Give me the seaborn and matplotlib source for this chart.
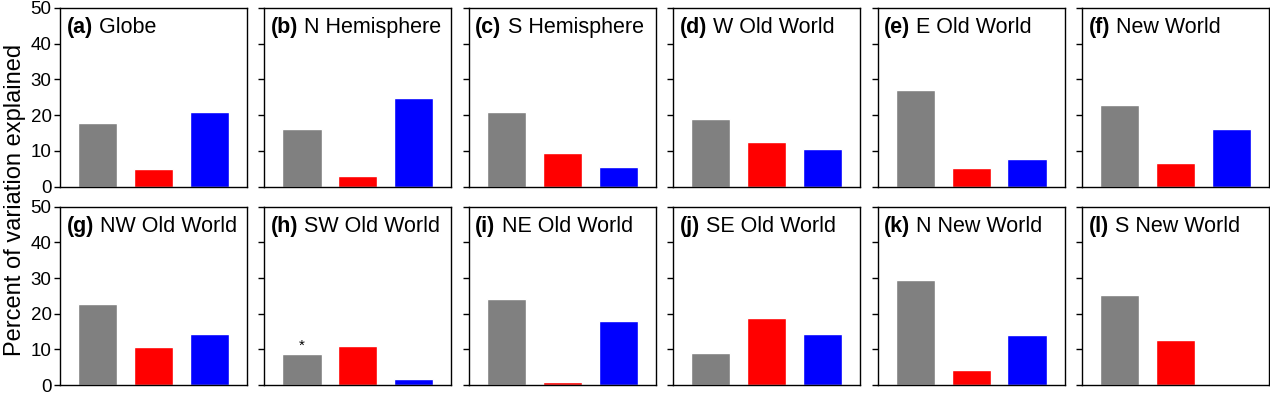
import pandas as pd
import seaborn as sns
import matplotlib.pyplot as plt

# panel letters and region names
letters = ['a', 'b', 'c', 'd', 'e', 'f', 'g', 'h', 'i', 'j', 'k', 'l']
regions = ['Globe', 'N Hemisphere', 'S Hemisphere', 'W Old World', 'E Old World', 'New World',
           'NW Old World', 'SW Old World', 'NE Old World', 'SE Old World', 'N New World', 'S New World']
components = ['shared', 'first', 'second']

# percent of variation explained, one list per component (gray, red, blue)
gray_vals = [17.7, 16.0, 21.0, 18.8, 27.0, 22.8, 22.7, 8.7, 24.2, 9.0, 29.5, 25.2]
red_vals = [4.9, 3.0, 9.5, 12.4, 5.1, 6.5, 10.7, 11.0, 0.8, 18.8, 4.2, 12.6]
blue_vals = [20.9, 24.9, 5.5, 10.5, 7.8, 16.0, 14.2, 1.7, 18.0, 14.3, 14.0, 0.15]
star_panels = ['h']

palette = {'shared': '#808080', 'first': '#ff0000', 'second': '#0000ff'}

sns.set_style('white')
plt.rcParams['font.family'] = ['Liberation Sans', 'DejaVu Sans']
plt.rcParams['text.color'] = 'black'
plt.rcParams['ytick.color'] = 'black'
plt.rcParams['ytick.labelcolor'] = 'black'

fig = plt.figure(figsize=(12.7, 3.93), dpi=100)

W, H = 1270, 393
ax_w = 187
step = 204.4
rows = [(186.7, 179.0), (385.0, 178.3)]  # (bottom px from top, height px)

for i, (letter, region) in enumerate(zip(letters, regions)):
    r, c = divmod(i, 6)
    bottom_px, h_px = rows[r]
    left_px = 60 + c * step
    ax = fig.add_axes([left_px / W, (H - bottom_px) / H, ax_w / W, h_px / H])

    df = pd.DataFrame({
        'component': components,
        'value': [gray_vals[i], red_vals[i], blue_vals[i]],
    })
    sns.barplot(data=df, x='component', y='value', hue='component', palette=palette,
                width=0.7, legend=False, ax=ax, saturation=1)

    ax.set_ylim(0, 50)
    ax.set_xlim(-0.67, 2.67)
    ax.set_yticks(range(0, 51, 10))
    ax.set_xticks([])
    ax.set_xlabel('')
    ax.set_ylabel('')
    ax.tick_params(axis='y', direction='out', length=4, width=1, left=True, labelsize=13.5, pad=2)
    if c != 0:
        ax.set_yticklabels([])
    for sp in ax.spines.values():
        sp.set_visible(True)
        sp.set_color('black')
        sp.set_linewidth(1.0)

    t1 = ax.text(0.035, 0.86, f'({letter})', transform=ax.transAxes, fontsize=15.5,
                 fontweight='bold', va='baseline', ha='left')
    ax.annotate(f' {region}', xy=(1, 0), xycoords=t1, fontsize=15.5, va='bottom', ha='left')

    if letter in star_panels:
        ax.text(0, gray_vals[i] + 0.3, '*', ha='center', va='bottom', fontsize=11)

fig.text(0.012, 0.49, 'Percent of variation explained', rotation=90, va='center', ha='center',
         fontsize=17)

fig.savefig('out.png', dpi=100)
